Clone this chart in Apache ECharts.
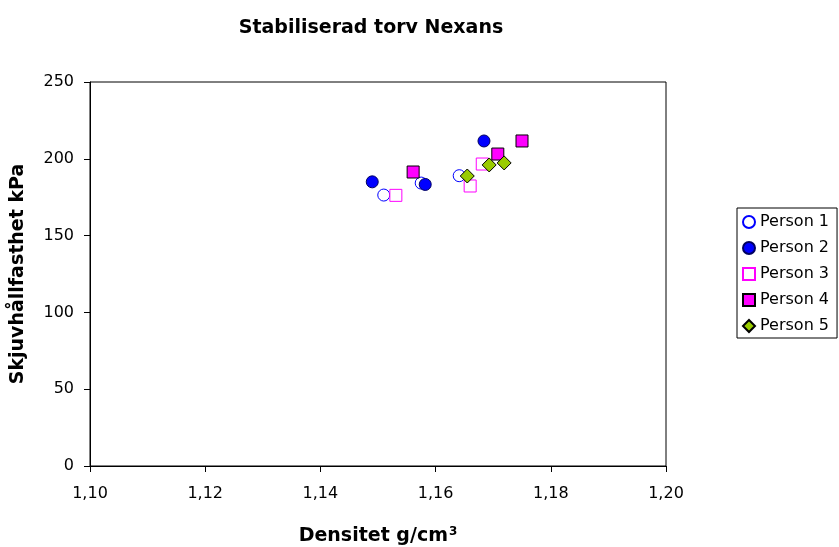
<!DOCTYPE html>
<html><head><meta charset="utf-8">
<script src="https://cdn.jsdelivr.net/npm/echarts@6/dist/echarts.min.js"></script>
<style>html,body{margin:0;padding:0;background:#fff}#c{width:839px;height:547px}</style>
</head><body><div id="c"></div>
<script>
const xTicks = [1.10, 1.12, 1.14, 1.16, 1.18, 1.20];
const yTicks = [0, 50, 100, 150, 200, 250];
const person1 = [[1.1510, 176.4], [1.1575, 184.2], [1.1641, 189.0]];
const person2 = [[1.1490, 185.0], [1.1582, 183.3], [1.1684, 211.6]];
const person3 = [[1.1531, 176.2], [1.1660, 182.3], [1.1681, 196.6]];
const person4 = [[1.1561, 191.4], [1.1708, 203.1], [1.1750, 211.6]];
const person5 = [[1.1655, 188.8], [1.1693, 196.0], [1.1719, 197.3]];

const chart = echarts.init(document.getElementById('c'));
const font = 'DejaVu Sans, sans-serif';
chart.setOption({
  animation: false,
  backgroundColor: '#fff',
  title: {
    text: 'Stabiliserad torv Nexans', left: 366, top: 14, textAlign: 'center',
    textStyle: {fontFamily: font, fontSize: 19, fontWeight: 'bold', color: '#000'}
  },
  grid: {left: 90, top: 82, right: 173, bottom: 81, show: true, borderColor: '#000', borderWidth: 1,
    containLabel: false, outerBoundsMode: 'none'},
  legend: {
    orient: 'vertical', left: 737, top: 208,
    borderColor: '#000', borderWidth: 1, padding: [6, 8, 4, 5], itemGap: 10,
    itemWidth: 12, itemHeight: 12,
    textStyle: {fontFamily: font, fontSize: 16, lineHeight: 16, color: '#000'},
    data: ['Person 1', 'Person 2', 'Person 3', 'Person 4', 'Person 5']
  },
  xAxis: {
    type: 'value', min: xTicks[0], max: xTicks[xTicks.length - 1], interval: 0.02,
    name: '{a|Densitet g/cm}{s|3}', nameLocation: 'middle', nameGap: 60,
    nameTextStyle: {rich: {
      a: {fontFamily: font, fontSize: 19, fontWeight: 'bold', color: '#000'},
      s: {fontFamily: font, fontSize: 12, fontWeight: 'bold', color: '#000', verticalAlign: 'top', padding: [0, 0, 9, 1]}
    }},
    axisLine: {show: true, lineStyle: {color: '#000'}},
    axisTick: {show: true, length: 6, lineStyle: {color: '#000'}},
    splitLine: {show: false},
    axisLabel: {fontFamily: font, fontSize: 16, color: '#000', margin: 20,
      formatter: v => v.toFixed(2).replace('.', ',')}
  },
  yAxis: {
    type: 'value', min: yTicks[0], max: yTicks[yTicks.length - 1], interval: 50,
    name: 'Skjuvhållfasthet kPa', nameLocation: 'middle', nameGap: 62,
    nameTextStyle: {fontFamily: font, fontSize: 19, fontWeight: 'bold', color: '#000'},
    axisLine: {show: true, lineStyle: {color: '#000'}},
    axisTick: {show: true, length: 6, lineStyle: {color: '#000'}},
    splitLine: {show: false},
    axisLabel: {fontFamily: font, fontSize: 16, color: '#000', margin: 16}
  },
  series: [
    {name: 'Person 1', type: 'scatter', data: person1, symbol: 'circle', symbolSize: 12,
      itemStyle: {color: '#fff', borderColor: '#0000FF', borderWidth: 1, opacity: 1}},
    {name: 'Person 2', type: 'scatter', data: person2, symbol: 'circle', symbolSize: 12,
      itemStyle: {color: '#0000FF', borderColor: '#000060', borderWidth: 1, opacity: 1}},
    {name: 'Person 3', type: 'scatter', data: person3, symbol: 'rect', symbolSize: 12,
      itemStyle: {color: '#fff', borderColor: '#FF00FF', borderWidth: 1, opacity: 1}},
    {name: 'Person 4', type: 'scatter', data: person4, symbol: 'rect', symbolSize: 12,
      itemStyle: {color: '#FF00FF', borderColor: '#000', borderWidth: 1, opacity: 1}},
    {name: 'Person 5', type: 'scatter', data: person5, symbol: 'diamond', symbolSize: 14,
      itemStyle: {color: '#99CC00', borderColor: '#000', borderWidth: 1, opacity: 1}}
  ]
});
</script></body></html>
